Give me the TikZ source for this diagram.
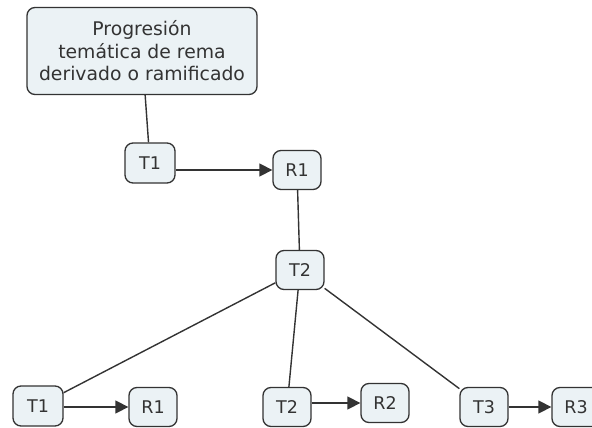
\documentclass[tikz,border=0pt]{standalone}
\usepackage{fontspec}
\setmainfont{DejaVu Sans}
\usepackage{tikz}
\usetikzlibrary{arrows.meta}
\definecolor{conceptfill}{HTML}{EBF2F5}
\definecolor{conceptline}{HTML}{333333}

\begin{document}
\begin{tikzpicture}[x=1pt,y=-1pt,>={Triangle[length=13pt,width=13pt]},color=conceptline,every edge/.append style={line width=1.4pt}]
    \tikzstyle{concept}=[draw=conceptline,fill=conceptfill,rounded corners=8pt,line width=1.3pt,font=\fontsize{17.5}{22.5}\selectfont,minimum width=48pt,minimum height=39pt,inner sep=0pt]
    \useasboundingbox (0,0) rectangle (592,428);
    \node[concept, minimum width=230pt, minimum height=87pt, align=center, font=\fontsize{18.8}{22.5}\selectfont] (title) at (142,51) {Progresión\\temática de rema\\derivado o ramificado};
    \node[concept, minimum width=50pt, minimum height=40pt] (ta)  at (150,163) {T1};
    \node[concept]  (ra)  at (297,170) {R1};
    \node[concept]  (tb)  at (300,270) {T2};
    \node[concept, minimum width=50pt, minimum height=40pt] (tb1) at (38,406)  {T1};
    \node[concept]  (rb1) at (153,407) {R1};
    \node[concept]  (tb2) at (287,407) {T2};
    \node[concept]  (rb2) at (385,403) {R2};
    \node[concept]  (tb3) at (484,407) {T3};
    \node[concept]  (rb3) at (576,407) {R3};

    \path
    (title) edge                (ta)
    (ra)    edge                (tb)
    (tb)    edge                (tb1)
            edge                (tb2)
            edge                (tb3)
    (ta.east  |- ra)  edge[->]  (ra)
    (tb1.east |- rb1) edge[->]  (rb1)
    (tb2.east |- rb2) edge[->]  (rb2)
    (tb3.east |- rb3) edge[->]  (rb3);
\end{tikzpicture}
\end{document}
